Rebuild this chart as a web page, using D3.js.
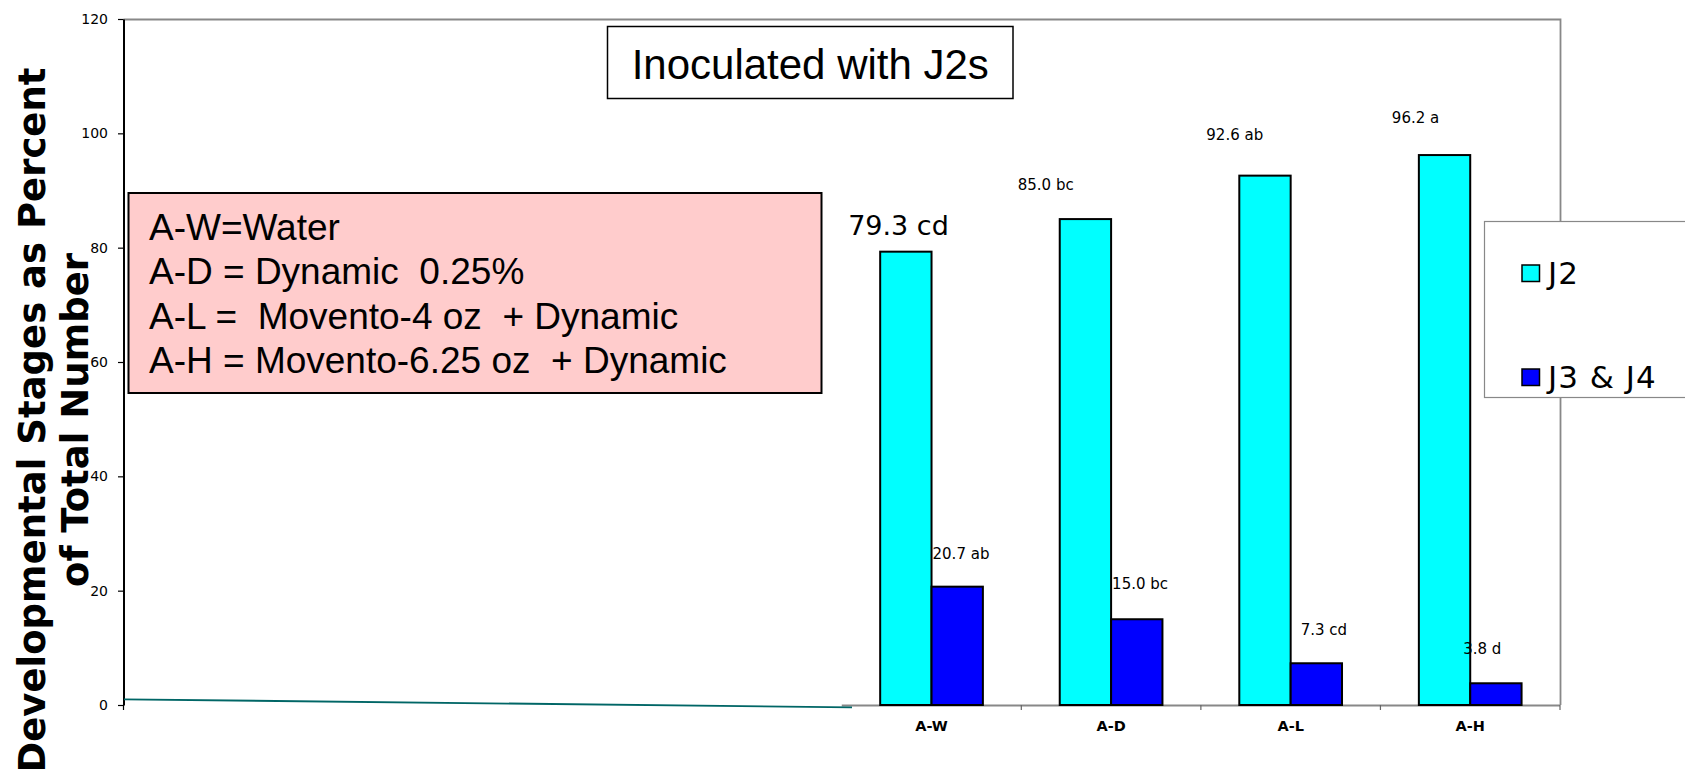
<!DOCTYPE html>
<html>
<head>
<meta charset="utf-8">
<script src="https://cdn.jsdelivr.net/npm/d3@7"></script>
<style>
  body { margin: 0; background: #fff; }
  svg { display: block; }
  text { white-space: pre; }
</style>
</head>
<body>
<svg id="chart" width="1685" height="772"></svg>
<script>
// Treatments on the category axis
const categories = ["A-W", "A-D", "A-L", "A-H"];
const seriesNames = ["J2", "J3 & J4"];
// Percent of total nematodes at each stage
const j2Values = [79.3, 85.0, 92.6, 96.2];
const j34Values = [20.7, 15.0, 7.3, 3.8];
// Mean-separation letters
const j2Letters = ["cd", "bc", "ab", "a"];
const j34Letters = ["ab", "bc", "cd", "d"];
const yTicks = [0, 20, 40, 60, 80, 100, 120];
const treatmentKey = [
  "A-W=Water",
  "A-D = Dynamic  0.25%",
  "A-L =  Movento-4 oz  + Dynamic",
  "A-H = Movento-6.25 oz  + Dynamic"
];
const panelTitle = "Inoculated with J2s";
const yTitleLines = ["Developmental Stages as Percent", "of Total Number"];

// Hand-placed nudges for the value labels, [dx, dy] from each bar's top-left corner
const j2LabelNudge = [[-32, -17], [-42, -29], [-33, -36], [-27, -32]];
const j34LabelNudge = [[1, -28], [1, -30], [10, -28], [-7, -29]];

const colors = { J2: "#00ffff", J34: "#0000ff" };

const svg = d3.select("#chart");
const plot = { left: 123.5, right: 1560, top: 19, bottom: 705 };

const y = d3.scaleLinear().domain([0, 120]).range([plot.bottom, plot.top]);
// Category bands occupy the right half of the plotting area
const x = d3.scaleBand()
  .domain(categories)
  .range([plot.left + (plot.right - plot.left) / 2, plot.right])
  .paddingInner(0).paddingOuter(0);
const bw = x.bandwidth();
const barW = bw * 0.286;

// Axis title (two rotated lines)
const yTitle = svg.append("g")
  .attr("font-family", "DejaVu Sans, Verdana, sans-serif")
  .attr("font-weight", "bold")
  .attr("font-size", 37)
  .attr("fill", "#000");
yTitle.selectAll("text").data(yTitleLines).join("text")
  .attr("transform", (d, i) => `translate(${i === 0 ? 45 : 88},420) rotate(-90)`)
  .attr("text-anchor", "middle")
  .text(d => d);

// Plot frame: grey top and right edges
svg.append("path")
  .attr("d", `M${plot.left},${plot.top + 0.5}H${plot.right + 0.5}V${plot.bottom}`)
  .attr("fill", "none").attr("stroke", "#888").attr("stroke-width", 1.8);

// Category axis baseline
const xAxisG = svg.append("g").attr("transform", `translate(0,${plot.bottom})`);
xAxisG.append("line")
  .attr("x1", x.range()[0]).attr("x2", plot.right)
  .attr("y1", 0.5).attr("y2", 0.5)
  .attr("stroke", "#888").attr("stroke-width", 1.8);
xAxisG.selectAll("line.tick-b").data(categories).join("line")
  .attr("class", "tick-b")
  .attr("x1", d => x(d) + bw).attr("x2", d => x(d) + bw)
  .attr("y1", 0).attr("y2", 5)
  .attr("stroke", "#666").attr("stroke-width", 1.2);
xAxisG.append("line")
  .attr("x1", plot.left).attr("x2", plot.left).attr("y1", 0).attr("y2", 5)
  .attr("stroke", "#000").attr("stroke-width", 1.2);
const xAxis = d3.axisBottom(x).tickSize(0).tickPadding(15.5);
xAxisG.append("g").call(xAxis)
  .call(g => g.select(".domain").remove())
  .selectAll("text")
  .attr("font-family", "DejaVu Sans, Verdana, sans-serif")
  .attr("font-weight", "bold")
  .attr("font-size", 14.5)
  .attr("fill", "#000");

// Value axis
const yAxis = d3.axisLeft(y).tickValues(yTicks).tickSize(5.5).tickPadding(10).tickSizeOuter(0);
const yAxisG = svg.append("g").attr("transform", `translate(${plot.left},0)`).call(yAxis);
yAxisG.select(".domain").attr("stroke", "#000").attr("stroke-width", 2);
yAxisG.selectAll(".tick line").attr("stroke", "#000").attr("stroke-width", 1.2);
yAxisG.selectAll(".tick text")
  .attr("font-family", "DejaVu Sans, Verdana, sans-serif")
  .attr("font-size", 14)
  .attr("fill", "#000");

// Stray connector line along the floor of the chart
svg.append("line")
  .attr("x1", plot.left + 0.5).attr("y1", 699.3)
  .attr("x2", 852).attr("y2", 707.3)
  .attr("stroke", "#006666").attr("stroke-width", 1.8);

// Bars
const bars = svg.append("g").attr("stroke", "#000").attr("stroke-width", 2);
bars.selectAll("rect.j2").data(j2Values).join("rect")
  .attr("class", "j2")
  .attr("x", (d, i) => x(categories[i]) + bw / 2 - barW)
  .attr("y", d => y(d))
  .attr("width", barW)
  .attr("height", d => y(0) - y(d))
  .attr("fill", colors.J2);
bars.selectAll("rect.j34").data(j34Values).join("rect")
  .attr("class", "j34")
  .attr("x", (d, i) => x(categories[i]) + bw / 2)
  .attr("y", d => y(d))
  .attr("width", barW)
  .attr("height", d => y(0) - y(d))
  .attr("fill", colors.J34);

// Value labels
const labelFont = "DejaVu Sans, Verdana, sans-serif";
svg.append("g").selectAll("text").data(j2Values).join("text")
  .attr("x", (d, i) => x(categories[i]) + bw / 2 - barW + j2LabelNudge[i][0])
  .attr("y", (d, i) => y(d) + j2LabelNudge[i][1])
  .attr("font-family", labelFont)
  .attr("font-size", (d, i) => i === 0 ? 27 : 15)
  .attr("fill", "#000")
  .text((d, i) => `${d.toFixed(1)} ${j2Letters[i]}`);
svg.append("g").selectAll("text").data(j34Values).join("text")
  .attr("x", (d, i) => x(categories[i]) + bw / 2 + j34LabelNudge[i][0])
  .attr("y", (d, i) => y(d) + j34LabelNudge[i][1])
  .attr("font-family", labelFont)
  .attr("font-size", 15)
  .attr("fill", "#000")
  .text((d, i) => `${d.toFixed(1)} ${j34Letters[i]}`);

// Panel title box
const tBox = { x: 607.5, y: 26.5, w: 405.5, h: 72 };
svg.append("rect")
  .attr("x", tBox.x).attr("y", tBox.y).attr("width", tBox.w).attr("height", tBox.h)
  .attr("fill", "#fff").attr("stroke", "#000").attr("stroke-width", 1.5);
svg.append("text")
  .attr("x", tBox.x + tBox.w / 2).attr("y", 79)
  .attr("text-anchor", "middle")
  .attr("font-family", "Liberation Sans, Arial, sans-serif")
  .attr("font-size", 42)
  .attr("fill", "#000")
  .text(panelTitle);

// Treatment key box
const kBox = { x: 128.5, y: 193, w: 693, h: 200 };
svg.append("rect")
  .attr("x", kBox.x).attr("y", kBox.y).attr("width", kBox.w).attr("height", kBox.h)
  .attr("fill", "#ffcccc").attr("stroke", "#000").attr("stroke-width", 2);
svg.append("g").selectAll("text").data(treatmentKey).join("text")
  .attr("x", 149)
  .attr("y", (d, i) => 239.5 + i * 44.6)
  .attr("font-family", "Liberation Sans, Arial, sans-serif")
  .attr("font-size", 37)
  .attr("fill", "#000")
  .text(d => d);

// Series legend
const lg = svg.append("g");
lg.append("rect")
  .attr("x", 1484.5).attr("y", 221.5).attr("width", 230).attr("height", 176)
  .attr("fill", "#fff").attr("stroke", "#888").attr("stroke-width", 1.2);
const legendItems = [
  { name: seriesNames[0], color: colors.J2 },
  { name: seriesNames[1], color: colors.J34 }
];
const li = lg.selectAll("g.item").data(legendItems).join("g")
  .attr("class", "item")
  .attr("transform", (d, i) => `translate(1522,${265 + i * 104})`);
li.append("rect")
  .attr("width", 17.5).attr("height", 16.5)
  .attr("fill", d => d.color).attr("stroke", "#000").attr("stroke-width", 1.5);
li.append("text")
  .attr("x", 26).attr("y", 18.5)
  .attr("font-family", "DejaVu Sans, Verdana, sans-serif")
  .attr("font-size", 31)
  .attr("letter-spacing", 1)
  .attr("fill", "#000")
  .text(d => d.name);
</script>
</body>
</html>
